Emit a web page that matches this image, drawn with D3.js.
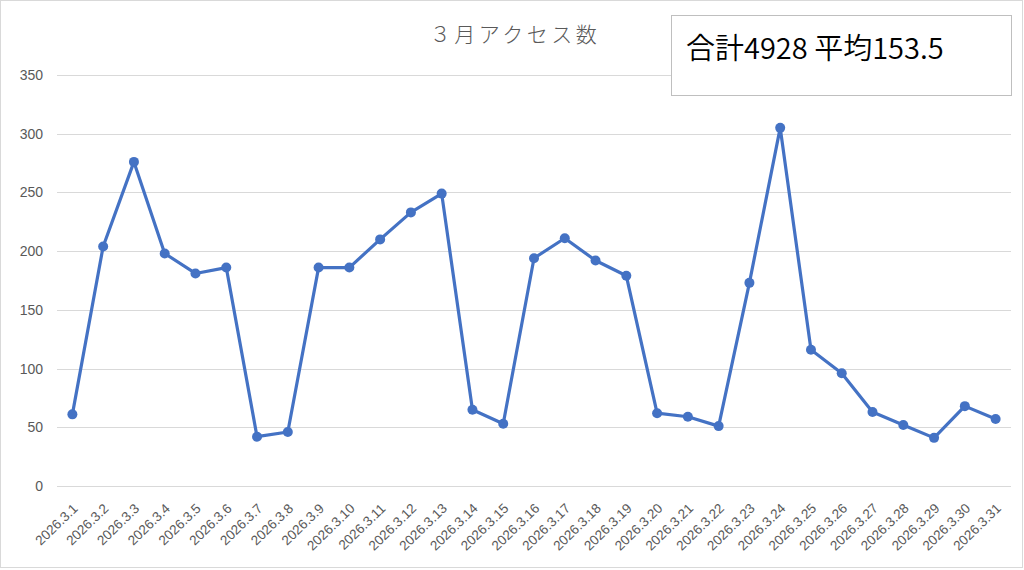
<!DOCTYPE html>
<html>
<head>
<meta charset="utf-8">
<script src="https://cdn.jsdelivr.net/npm/d3@7/dist/d3.min.js"></script>
<style>
body{margin:0;background:#fff;}
</style>
</head>
<body>
<div id="svgContainer"></div>
<script>
// 3月アクセス数
var svgWidth = 1024, svgHeight = 570;
var margin = {top:75, left:57, right:13, bottom:84};

var days = [];
for (var i = 1; i <= 31; i++) days.push("2026.3." + i);
var counts = [61,204,276,198,181,186,42,46,186,186,210,233,249,65,53,194,211,192,179,62,59,51,173,305,116,96,63,52,41,68,57];
var yTicks = [0,50,100,150,200,250,300,350];
var title = "３月アクセス数";
var note = "合計4928 平均153.5";

var svg = d3.select("#svgContainer").append("svg")
    .attr("width", svgWidth)
    .attr("height", svgHeight)
    .style("display","block");

svg.append("rect")
    .attr("x",0.5).attr("y",0.5)
    .attr("width",1022).attr("height",567)
    .attr("fill","#fff").attr("stroke","#d9d9d9");

var x = d3.scaleBand().domain(days).range([margin.left, svgWidth - margin.right]);
var y = d3.scaleLinear().domain([0,350]).range([svgHeight - margin.bottom, margin.top]);

// grid
svg.append("g")
    .selectAll("line")
    .data(yTicks)
    .enter().append("line")
    .attr("x1", margin.left).attr("x2", svgWidth - margin.right)
    .attr("y1", d => Math.round(y(d)) + 0.5).attr("y2", d => Math.round(y(d)) + 0.5)
    .attr("stroke","#d9d9d9").attr("stroke-width",1);

// y axis labels
var yaxis = svg.append("g")
    .attr("transform","translate(" + (margin.left - 14) + ",0)")
    .call(d3.axisLeft(y).tickValues(yTicks).tickSize(0).tickPadding(0));
yaxis.select(".domain").remove();
yaxis.selectAll("text")
    .attr("fill","#595959")
    .style("font-family","'Liberation Sans', Arial, sans-serif")
    .style("font-size","14px");

// x axis labels
var xaxis = svg.append("g")
    .attr("transform","translate(0," + (svgHeight - margin.bottom) + ")")
    .call(d3.axisBottom(x).tickSize(0).tickPadding(0));
xaxis.select(".domain").remove();
xaxis.selectAll("text")
    .attr("fill","#595959")
    .style("font-family","'Liberation Sans', Arial, sans-serif")
    .style("font-size","13.5px")
    .style("text-anchor","end")
    .attr("y",0).attr("dx",0).attr("dy","0.35em")
    .attr("transform","translate(3,20) rotate(-44)");

// line
var cx = d => x(d) + x.bandwidth()/2;
var line = d3.line()
    .x((d,i) => cx(days[i]))
    .y(d => y(d));

svg.append("path")
    .datum(counts)
    .attr("d", line)
    .attr("fill","none")
    .attr("stroke","#4472c4")
    .attr("stroke-width",3.2)
    .attr("stroke-linejoin","round");

svg.append("g")
    .selectAll("circle")
    .data(counts)
    .enter().append("circle")
    .attr("cx",(d,i) => cx(days[i]))
    .attr("cy", d => y(d))
    .attr("r",5)
    .attr("fill","#4472c4");

// title
svg.append("text")
    .attr("x", 515).attr("y", 42)
    .attr("text-anchor","middle")
    .attr("fill","#595959")
    .style("font-family","'Noto Sans CJK JP', sans-serif")
    .style("font-size","21px")
    .style("font-weight","300")
    .style("letter-spacing","3.5px")
    .text(title);

// note box
svg.append("rect")
    .attr("x",671.5).attr("y",15.5)
    .attr("width",340).attr("height",80)
    .attr("fill","#fff").attr("stroke","#bfbfbf");

svg.append("text")
    .attr("x",686).attr("y",59)
    .attr("fill","#000")
    .style("font-family","'Noto Sans CJK JP', sans-serif")
    .style("font-size","29px")
    .style("font-weight","350")
    .text(note);
</script>
</body>
</html>
